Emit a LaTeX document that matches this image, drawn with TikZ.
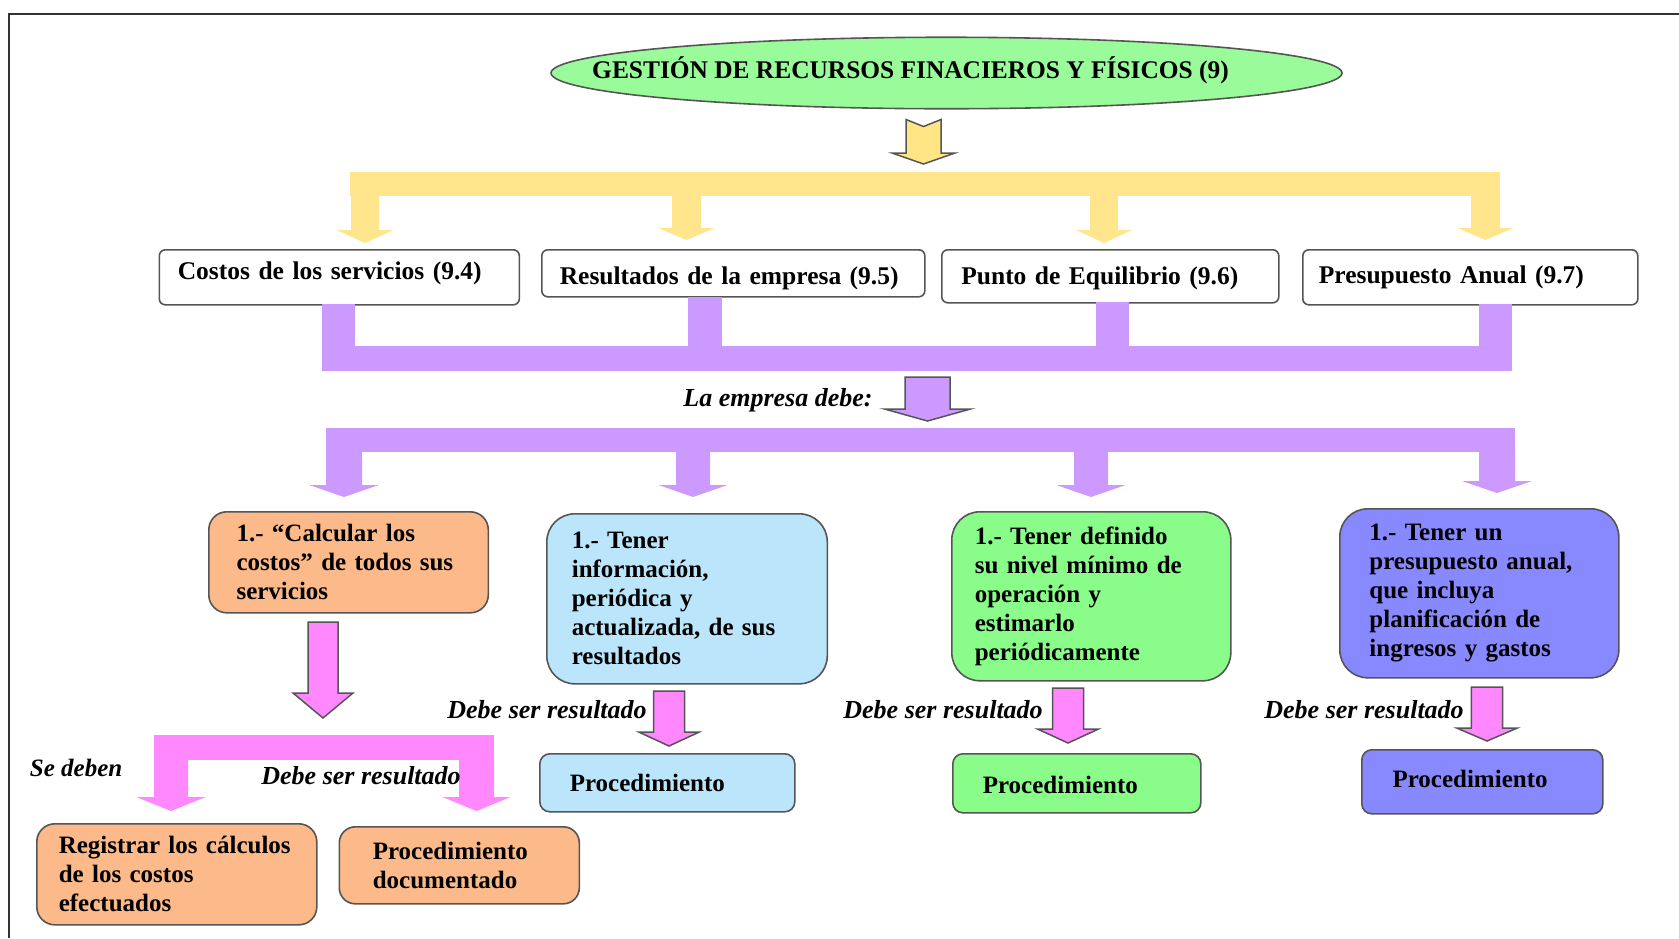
\documentclass[tikz,border=0pt]{standalone}
\usepackage{fontspec}
\setmainfont{Liberation Serif}
\usetikzlibrary{shapes.geometric}

\definecolor{titlegreen}{HTML}{99FB99}
\definecolor{barYellow}{HTML}{FFE68C}
\definecolor{arrowYellow}{HTML}{FFE584}
\definecolor{lilac}{HTML}{CC99FF}
\definecolor{pinkish}{HTML}{FF88FF}
\definecolor{peach}{HTML}{FCB98A}
\definecolor{skyblue}{HTML}{BBE5FA}
\definecolor{mint}{HTML}{8AFC8A}
\definecolor{periwinkle}{HTML}{8888FF}
\definecolor{edge}{HTML}{555555}
\definecolor{framegrey}{HTML}{333333}

% block arrow pointing down: style, centre x, top y, shaft half width, head half width, head y, tip y
\newcommand\downblock[7]{%
  \path[#1] (#2-#4,#3) -- (#2+#4,#3) -- (#2+#4,#6) -- (#2+#5,#6) -- (#2,#7)
    -- (#2-#5,#6) -- (#2-#4,#6) -- cycle;}

\newcommand\tline[1]{\mbox{#1}}
\newcommand\shiftup[2]{\raisebox{#1}[\height][\depth]{#2}}

\tikzset{
  outlined/.style={draw=edge, line width=0.75pt, line join=miter},
  hdbox/.style={draw=edge, line width=0.8pt, fill=white, rounded corners=3pt,
    anchor=north west, align=left, inner ysep=0pt,
    font=\fontsize{12.75pt}{15pt}\selectfont\bfseries},
  rbox/.style={draw=edge, line width=0.8pt, anchor=north west, align=left,
    inner ysep=0pt, font=\fontsize{12.5pt}{14.5pt}\selectfont\bfseries},
  lbl/.style={anchor=west, inner sep=0pt,
    font=\fontsize{13pt}{15pt}\selectfont\bfseries\itshape},
}

\begin{document}
\begin{tikzpicture}[x=0.5pt, y=-0.5pt]
\useasboundingbox (0,0) rectangle (1679,938);

% frame
\draw[framegrey, line width=0.75pt] (9,938) -- (9,14) -- (1679,14);

% title
\node[ellipse, draw=edge, line width=0.8pt, fill=titlegreen,
      minimum width=395.5pt, minimum height=35.75pt, inner sep=0pt] (title) at (946.5,73) {};
\node[inner sep=0pt, font=\fontsize{12.7pt}{15pt}\selectfont\bfseries] (titletext) at (910.5,70)
  {GESTIÓN DE RECURSOS FINACIEROS Y FÍSICOS (9)};

% yellow distribution (notched arrow below the title)
\path[fill=arrowYellow, outlined] (906,119.5) -- (923.5,126.5) -- (941,119.5) -- (941,153)
  -- (955,153) -- (923.5,164) -- (892,153) -- (906,153) -- cycle;
\fill[barYellow] (350,172) rectangle (1500,196);
\downblock{fill=barYellow}{365}{195}{14}{28.5}{230}{243}
\downblock{fill=barYellow}{686.5}{195}{14.5}{28.5}{228}{240}
\downblock{fill=barYellow}{1104}{195}{14}{28}{230}{243}
\downblock{fill=barYellow}{1485.5}{195}{14.5}{28}{228}{240}

% section boxes
\node[hdbox, minimum width=180pt, minimum height=27.5pt, inner xsep=9.25pt, text width=161.5pt]
  (costos) at (158.5,249) {\shiftup{2pt}{Costos de los servicios (9.4)}};
\node[hdbox, minimum width=191.5pt, minimum height=23.5pt, inner xsep=9pt, text width=173.5pt]
  (resultados) at (541,249) {\shiftup{-2.5pt}{Resultados de la empresa (9.5)}};
\node[hdbox, minimum width=168.5pt, minimum height=26.5pt, inner xsep=9.75pt, text width=149pt]
  (equilibrio) at (941,249) {\shiftup{-1pt}{Punto de Equilibrio (9.6)}};
\node[hdbox, minimum width=167.5pt, minimum height=27.5pt, inner xsep=8pt, text width=151.5pt]
  (presupuesto) at (1302,249) {Presupuesto Anual (9.7)};

% lilac collector
\fill[lilac] (322,304) rectangle (355,346);
\fill[lilac] (688,297) rectangle (721.5,346);
\fill[lilac] (1096,302) rectangle (1129,346);
\fill[lilac] (1479,304) rectangle (1512,346);
\fill[lilac] (322,346) rectangle (1512,371);

\node[lbl] (empresa) at (683,400) {La empresa debe:};
\downblock{fill=lilac, outlined}{927.5}{377}{22.5}{43}{409}{421}

% lilac distribution
\fill[lilac] (326,428) rectangle (1515,452);
\downblock{fill=lilac}{344}{451}{18}{34.7}{485}{497}
\downblock{fill=lilac}{693}{451}{17}{34.5}{485}{497}
\downblock{fill=lilac}{1091}{451}{17}{34.7}{485}{497}
\downblock{fill=lilac}{1497}{451}{18}{35}{481}{493}

% requirements
\node[rbox, fill=peach, rounded corners=9pt, minimum width=139.75pt, minimum height=50.5pt,
      inner xsep=13.85pt, text width=112pt] (calcular) at (208,511)
  {\tline{1.- “Calcular los}\\ \tline{costos” de todos sus}\\ \tline{servicios}};
\node[rbox, fill=skyblue, rounded corners=14pt, minimum width=140.25pt, minimum height=85pt,
      inner xsep=12.5pt, text width=115.25pt] (informacion) at (546,513)
  {\tline{1.- Tener}\\ \tline{información,}\\ \tline{periódica y}\\ \tline{actualizada, de sus}\\ \tline{resultados}};
\node[rbox, fill=mint, rounded corners=14pt, minimum width=139.5pt, minimum height=84.5pt,
      inner xsep=11.5pt, text width=116.5pt] (nivel) at (951,511)
  {\tline{1.- Tener definido}\\ \tline{su nivel mínimo de}\\ \tline{operación y}\\ \tline{estimarlo}\\ \tline{periódicamente}};
\node[rbox, fill=periwinkle, rounded corners=14pt, minimum width=139.5pt, minimum height=84.5pt,
      inner xsep=14.8pt, text width=109.9pt] (anual) at (1339,508)
  {\tline{1.- Tener un}\\ \tline{presupuesto anual,}\\ \tline{que incluya}\\ \tline{planificación de}\\ \tline{ingresos y gastos}};

% pink branch under the cost box
\downblock{fill=pinkish, outlined}{323}{622}{15}{30}{693}{718}
\fill[pinkish] (154,735) rectangle (494,760);
\downblock{fill=pinkish}{171}{759}{17}{34.7}{797}{811}
\downblock{fill=pinkish}{476.5}{759}{17.5}{34}{797}{811}
\node[lbl, font=\fontsize{12.5pt}{15pt}\selectfont\bfseries\itshape] (sedeben) at (29.5,768) {Se deben};
\node[lbl] (debe1) at (261,776) {Debe ser resultado};

\node[rbox, fill=peach, rounded corners=9pt, minimum width=140pt, minimum height=50.5pt,
      inner xsep=11pt, text width=118pt] (registrar) at (36,823)
  {\tline{Registrar los cálculos}\\ \tline{de los costos}\\ \tline{efectuados}};
\node[rbox, fill=peach, rounded corners=8pt, minimum width=120pt, minimum height=38.5pt,
      inner xsep=16.75pt, text width=86.5pt] (documentado) at (338.5,826)
  {\tline{Procedimiento}\\ \tline{documentado}};

% result arrows and procedures
\node[lbl] (debe2) at (447,710) {Debe ser resultado};
\downblock{fill=pinkish, outlined}{669}{691}{15.5}{30.3}{732}{746}
\node[rbox, fill=skyblue, rounded corners=5pt, minimum width=127.5pt, minimum height=29pt,
      inner xsep=15pt, text width=97.5pt] (procazul) at (539,753) {Procedimiento};

\node[lbl] (debe3) at (843,710) {Debe ser resultado};
\downblock{fill=pinkish, outlined}{1068}{688}{15.5}{30.5}{729}{743}
\node[rbox, fill=mint, rounded corners=5pt, minimum width=124pt, minimum height=29.5pt,
      inner xsep=15pt, text width=94pt] (procverde) at (952,753) {\shiftup{-1pt}{Procedimiento}};

\node[lbl] (debe4) at (1264,710) {Debe ser resultado};
\downblock{fill=pinkish, outlined}{1487}{687}{15.7}{30.3}{728}{741}
\node[rbox, fill=periwinkle, rounded corners=5pt, minimum width=120.5pt, minimum height=32pt,
      inner xsep=15.35pt, text width=89.8pt] (procvioleta) at (1361,749) {\shiftup{1.5pt}{Procedimiento}};

\end{tikzpicture}
\end{document}
